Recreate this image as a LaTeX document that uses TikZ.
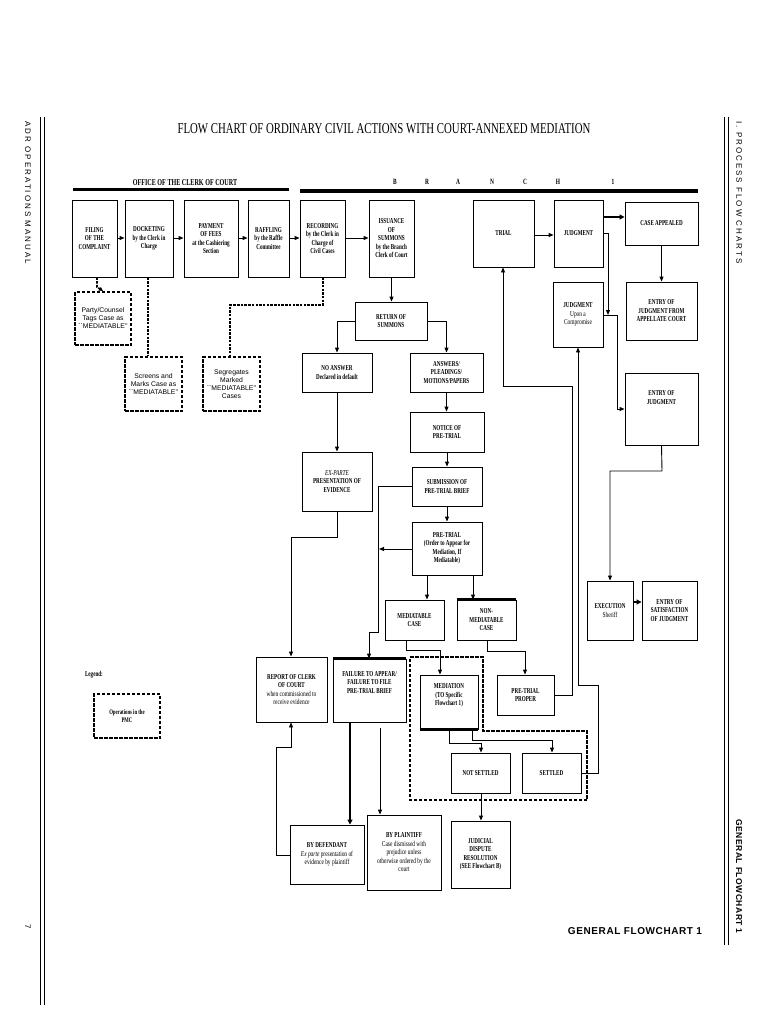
\documentclass[tikz,border=0pt]{standalone}
\usepackage{fontspec}
\setmainfont{Liberation Serif}
\newfontfamily\cond{Liberation Serif}[FakeStretch=0.72]
\newfontfamily\condb{Liberation Serif Bold}[FakeStretch=0.68]
\newfontfamily\sansf{Liberation Sans}
\newfontfamily\sansls{Liberation Sans}[LetterSpace=25]
\newfontfamily\sansb{Liberation Sans Bold}[LetterSpace=6]
\usetikzlibrary{arrows.meta,calc}
\tikzset{
 box/.style={draw,line width=0.9pt,align=center,inner sep=1pt,font=\condb\fontsize{7.5}{8.5}\selectfont},
 dbox/.style={draw,line width=2pt,dash pattern=on 3.5pt off 1.5pt,align=center,inner sep=1pt,font=\sansf\fontsize{6.8}{8}\selectfont},
 ar/.style={line width=0.9pt,-{Triangle[length=5pt,width=4pt]}},
 tar/.style={line width=2.2pt,-{Triangle[length=5pt,width=5pt]}},
 dar/.style={line width=1.8pt,dash pattern=on 2.5pt off 1.2pt},
 sub/.style={font=\cond\fontsize{7}{8}\selectfont}
}
\newcommand\bx[7][box]{\node[#1,minimum width={(#5-#3)*1pt},minimum height={(#6-#4)*1pt}] (#2) at ({(#3+#5)/2},{(#4+#6)/2}) {#7};}
\begin{document}
\begin{tikzpicture}[x=1pt,y=-1pt]
\useasboundingbox (0,0) rectangle (768,1024);
% margins
\draw[line width=1pt] (40,117) -- (40,1005);
\draw[line width=0.6pt] (44,117) -- (44,1005);
\draw[line width=1pt] (724,117) -- (724,945);
\draw[line width=0.6pt] (728,117) -- (728,945);
\node[rotate=-90,anchor=west,font=\sansls\fontsize{8}{9}\selectfont] (lt) at (28,118) {ADR OPERATIONS MANUAL};
\node[rotate=-90,font=\sansf\fontsize{8}{9}\selectfont] (pg) at (28,927) {7};
\node[rotate=-90,anchor=west,font=\sansls\fontsize{8}{9}\selectfont] (rt) at (739,118) {I. PROCESS FLOW CHARTS};
\node[rotate=-90,anchor=east,font=\sansb\fontsize{8.5}{9}\selectfont] (rb) at (739,937) {GENERAL FLOWCHART 1};
% title
\node[font=\cond\fontsize{15}{16}\selectfont] (title) at (384,129) {FLOW CHART OF ORDINARY CIVIL ACTIONS WITH COURT-ANNEXED MEDIATION};
\node[font=\sansb\fontsize{10}{11}\selectfont] (foot) at (635,931) {GENERAL FLOWCHART 1};
% header
\node[font=\condb\fontsize{9}{10}\selectfont] (occ) at (185,183) {OFFICE OF THE CLERK OF COURT};
\draw[line width=3pt] (73,190) -- (289,190);
\draw[line width=4.5pt] (300,191) -- (698,191);
\foreach \l/\x [count=\i] in {B/395,R/427,A/458,N/492,C/525,H/558,1/613}
  \node[font=\condb\fontsize{8}{9}\selectfont] (br\i) at (\x,182) {\l};
% boxes
\bx{fil}{72}{200}{117}{277}{FILING\\OF THE\\COMPLAINT}
\bx{dock}{125}{200}{173}{277}{DOCKETING\\by the Clerk in\\Charge}
\bx{pay}{184}{200}{238}{277}{PAYMENT\\OF FEES\\at the Cashiering\\Section}
\bx{raf}{248}{200}{289}{277}{RAFFLING\\by the Raffle\\Committee}
\bx{rec}{300}{200}{345}{277}{RECORDING\\by the Clerk in\\Charge of\\Civil Cases}
\bx{iss}{369}{200}{414}{277}{ISSUANCE\\OF\\SUMMONS\\by the Branch\\Clerk of Court}
\bx{trial}{473}{200}{534}{267}{TRIAL}
\bx{judg}{554}{200}{603}{267}{JUDGMENT}
\bx{appeal}{625}{202}{698}{245}{CASE APPEALED}
\bx{comp}{553}{282}{603}{347}{JUDGMENT\\\cond Upon a\\\cond Compromise}
\bx{appct}{626}{282}{697}{340}{ENTRY OF\\JUDGMENT FROM\\APPELLATE COURT}
\bx{entry}{625}{373}{698}{445}{ENTRY OF\\JUDGMENT\\[14pt]}
\bx{ret}{355}{302}{427}{340}{RETURN OF\\SUMMONS}
\bx{noans}{302}{353}{372}{392}{NO ANSWER\\Declared in default}
\bx{ans}{410}{353}{483}{392}{ANSWERS/\\PLEADINGS/\\MOTIONS/PAPERS}
\bx{notice}{410}{412}{484}{452}{NOTICE OF\\PRE-TRIAL}
\bx{exp}{302}{452}{372}{511}{\itshape\cond EX-PARTE\\PRESENTATION OF\\EVIDENCE}
\bx{subm}{412}{467}{482}{506}{SUBMISSION OF\\PRE-TRIAL BRIEF}
\bx{pre}{412}{522}{482}{575}{PRE-TRIAL\\(Order to Appear for\\Mediation, If\\Mediatable)}
\bx{med}{385}{600}{444}{640}{MEDIATABLE\\CASE}
\bx{nonmed}{457}{600}{516}{640}{NON-\\MEDIATABLE\\CASE}
\bx{report}{256}{657}{327}{722}{REPORT OF CLERK\\OF COURT\\\cond when commissioned to\\\cond receive evidence}
\bx{fail}{333}{659}{406}{722}{FAILURE TO APPEAR/\\FAILURE TO FILE\\PRE-TRIAL BRIEF\\[8pt]}
\bx{mediat}{420}{675}{478}{729}{MEDIATION\\(TO Specific\\Flowchart 1)\\[6pt]}
\bx{ptp}{497}{675}{554}{715}{PRE-TRIAL\\PROPER}
\bx{nots}{451}{753}{510}{793}{NOT SETTLED}
\bx{sett}{522}{753}{581}{793}{SETTLED}
\bx{def}{290}{825}{364}{884}{BY DEFENDANT\\\cond\itshape Ex parte \upshape presentation of\\\cond evidence by plaintiff}
\bx{plf}{367}{815}{441}{890}{BY PLAINTIFF\\\cond Case dismissed with\\\cond prejudice unless\\\cond otherwise ordered by the\\\cond court}
\bx{jdr}{451}{821}{510}{888}{JUDICIAL\\DISPUTE\\RESOLUTION\\(SEE Flowchart B)}
\bx{exec}{587}{581}{633}{640}{EXECUTION\\\cond Sheriff}
\bx{sat}{642}{581}{697}{640}{ENTRY OF\\SATISFACTION\\OF JUDGMENT}
% thick edges
\draw[line width=2.5pt] (nonmed.north west) -- (nonmed.north east);
\draw[line width=2.5pt] (fail.north west) -- (fail.north east);
\draw[line width=2.5pt] (mediat.south west) -- (mediat.south east);
% dashed boxes
\bx[dbox]{party}{75}{292}{131}{345}{Party/Counsel\\Tags Case as\\``MEDIATABLE''}
\bx[dbox]{screen}{125}{357}{182}{411}{Screens and\\Marks Case as\\``MEDIATABLE''}
\bx[dbox]{segr}{203}{357}{260}{411}{Segregates\\Marked\\``MEDIATABLE''\\Cases}
\node[font=\condb\fontsize{7.5}{8.5}\selectfont] (leg) at (94,675) {Legend:};
\bx[dbox]{legbox}{94}{694}{160}{738}{\condb\fontsize{7}{8}\selectfont Operations in the\\\condb\fontsize{7}{8}\selectfont PMC}
\draw[line width=2pt,dash pattern=on 3.5pt off 1.5pt] (410,657) -- (483,657) -- (483,731) -- (587,731) -- (587,800) -- (410,800) -- cycle;
% top row arrows
\draw[ar] (fil.east |- 0,238) -- (dock.west |- 0,238);
\draw[ar] (dock.east |- 0,238) -- (pay.west |- 0,238);
\draw[ar] (pay.east |- 0,238) -- (raf.west |- 0,238);
\draw[ar] (raf.east |- 0,238) -- (rec.west |- 0,238);
\draw[ar] (rec.east |- 0,238) -- (iss.west |- 0,238);
\draw[dar,-{Triangle[length=4pt,width=4pt]}] (fil.south -| 97,0) -- (97,287) -- (party.north -| 103,0);
\draw[dar] (dock.south -| 148,0) -- (screen.north -| 148,0);
\draw[dar] (rec.south -| 323,0) -- (323,305) -- (230,305) -- (segr.north -| 230,0);
% main flow
\draw[ar] (iss.south) -- (ret.north -| iss.south);
\draw[ar] (ret.west) -| (noans.north);
\draw[ar] (ret.east) -| (ans.north);
\draw[ar] (ans.south) -- (notice.north -| ans.south);
\draw[ar] (noans.south) -- (exp.north);
\draw[ar] (notice.south) -- (subm.north -| notice.south);
\draw[ar] (subm.south) -- (pre.north);
\draw[ar] (subm.west) -- (378,486.5) -- (378,632) -- (369,632) -- (fail.north -| 369,0);
\draw[ar] (pre.west |- 0,549) -- (379,549);
\draw[ar] (pre.south -| 427,0) -- (med.north -| 427,0);
\draw[ar] (pre.south -| 473,0) -- (nonmed.north -| 473,0);
\draw[ar] (med.south -| 406,0) -- (406,650) -- (440,650) -- (mediat.north -| 440,0);
\draw[ar] (nonmed.south -| 487,0) -- (487,651) -- (525,651) -- (ptp.north -| 525,0);
\draw[ar] (mediat.south -| 449,0) -- (449,743) -- (481,743) -- (nots.north -| 481,0);
\draw[ar] (mediat.south -| 472,0) -- (472,740) -- (552,740) -- (sett.north -| 552,0);
\draw[ar] (nots.south -| 481,0) -- (jdr.north -| 481,0);
\draw[ar] (ptp.east |- 0,695) -- (572,695) -- (572,386) -- (503,386) -- (trial.south -| 503,0);
\draw[ar] (sett.east) -- (598,773) -- (598,685) -- (578,685) -- (comp.south -| 578,0);
\draw[ar] (exp.south) -- (337,537) -- (291,537) -- (report.north -| 291,0);
\draw[tar] (fail.south -| 350,0) -- (def.north -| 350,0);
\draw[ar] (380,728) -- (plf.north -| 380,0);
\draw[ar] (def.west |- 0,855) -- (276,855) -- (276,747) -- (291,747) -- (report.south -| 291,0);
% right side
\draw[ar] (trial.east |- 0,235) -- (judg.west |- 0,235);
\draw[tar] (judg.east |- 0,217) -- (appeal.west |- 0,217);
\draw[ar] (judg.east |- 0,233) -- (608,233) -- (608,315);
\draw[ar] (comp.east |- 0,315) -- (617,315) -- (617,409) -- (entry.west |- 0,409);
\draw[ar] (appeal.south) -- (appct.north -| appeal.south);
\draw[ar] (entry.south) -- (662,471) -- (610,471) -- (exec.north -| 610,0);
\draw[tar] (exec.east |- 0,602) -- (sat.west |- 0,602);
\end{tikzpicture}
\end{document}
